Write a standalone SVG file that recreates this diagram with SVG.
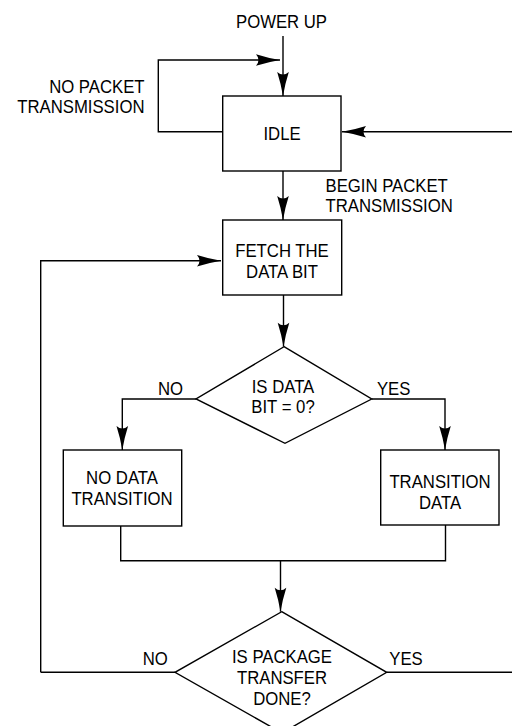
<svg xmlns="http://www.w3.org/2000/svg" width="512" height="726" viewBox="0 0 512 726">
<style>
.n{fill:#fff;stroke:#000;stroke-width:1.4}
.c{fill:none;stroke:#000;stroke-width:1.4}
text{font-family:"Liberation Sans",Arial,Helvetica,sans-serif;font-size:18.8px;fill:#000}
.m{text-anchor:middle}
.e{text-anchor:end}
</style>
<defs>
<marker id="a" markerUnits="userSpaceOnUse" markerWidth="26" markerHeight="14" viewBox="-25 -7 26 14" refX="0" refY="0" orient="auto">
<path d="M0,0 Q-12,-2 -24,-5.8 Q-19,0 -24,5.8 Q-12,2 0,0 Z" fill="#000"/>
</marker>
</defs>
<g id="connectors">
<path class="c" d="M283,36 V96" marker-end="url(#a)"/>
<path class="c" d="M223,131.7 H158.3 V60 H280" marker-end="url(#a)"/>
<path class="c" d="M515,131.7 H342" marker-end="url(#a)"/>
<path class="c" d="M283,171 V220" marker-end="url(#a)"/>
<path class="c" d="M40.7,672.3 V260.7 H221" marker-end="url(#a)"/>
<path class="c" d="M283.5,295 V346.7" marker-end="url(#a)"/>
<path class="c" d="M196,399 H122.3 V450" marker-end="url(#a)"/>
<path class="c" d="M371.7,399 H445 V450" marker-end="url(#a)"/>
<path class="c" d="M120.7,526 V560.7 H445.5 V525"/>
<path class="c" d="M280.5,560.7 V611.7" marker-end="url(#a)"/>
<path class="c" d="M175,672.3 H40.7"/>
<path class="c" d="M386.7,672.3 H515"/>
</g>
<g id="labels">
<text class="m" transform="translate(281.5 28) scale(0.89 1)">POWER UP</text>
<text class="e" transform="translate(144.5 93) scale(0.89 1)">NO PACKET</text>
<text class="e" transform="translate(144.5 113) scale(0.89 1)">TRANSMISSION</text>
<text transform="translate(325.5 191.5) scale(0.89 1)">BEGIN PACKET</text>
<text transform="translate(325.5 211.5) scale(0.89 1)">TRANSMISSION</text>
<text class="m" transform="translate(170.5 394.5) scale(0.89 1)">NO</text>
<text class="m" transform="translate(393.7 394.5) scale(0.89 1)">YES</text>
<text class="m" transform="translate(155.2 664.5) scale(0.89 1)">NO</text>
<text class="m" transform="translate(406 664.5) scale(0.89 1)">YES</text>
</g>
<g id="idle">
<rect class="n" x="222.7" y="96" width="118.3" height="75"/>
<text class="m" transform="translate(282 139.5) scale(0.89 1)">IDLE</text>
</g>
<g id="fetch">
<rect class="n" x="222.7" y="220" width="119" height="75"/>
<text class="m" transform="translate(282 257) scale(0.89 1)">FETCH THE</text>
<text class="m" transform="translate(282 278) scale(0.89 1)">DATA BIT</text>
</g>
<g id="isdatabit">
<path class="n" d="M284,346.7 L371.7,399 L285,443.3 L196,399 Z"/>
<text class="m" transform="translate(283 392.5) scale(0.89 1)">IS DATA</text>
<text class="m" transform="translate(283 413) scale(0.89 1)">BIT = 0?</text>
</g>
<g id="nodatatransition">
<rect class="n" x="63.3" y="450" width="118.4" height="76"/>
<text class="m" transform="translate(122 484) scale(0.89 1)">NO DATA</text>
<text class="m" transform="translate(122 504.5) scale(0.89 1)">TRANSITION</text>
</g>
<g id="transitiondata">
<rect class="n" x="380.7" y="450" width="118.3" height="75"/>
<text class="m" transform="translate(440 487.5) scale(0.89 1)">TRANSITION</text>
<text class="m" transform="translate(440 508.5) scale(0.89 1)">DATA</text>
</g>
<g id="isdone">
<path class="n" d="M281.7,611.7 L386.7,672.3 L282,733 L175,672.3 Z"/>
<text class="m" transform="translate(282 663) scale(0.89 1)">IS PACKAGE</text>
<text class="m" transform="translate(282 683.5) scale(0.89 1)">TRANSFER</text>
<text class="m" transform="translate(282 704.5) scale(0.89 1)">DONE?</text>
</g>
</svg>
